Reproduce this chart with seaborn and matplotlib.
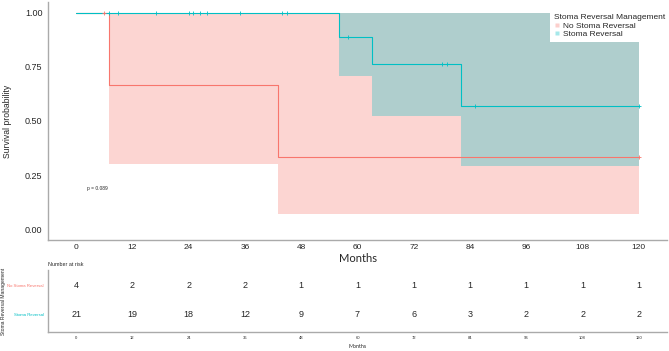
import numpy as np
import pandas as pd
import matplotlib
matplotlib.use("Agg")
import matplotlib.pyplot as plt
import seaborn as sns
from matplotlib.lines import Line2D

sns.set_style("white")
plt.rcParams['font.family'] = ['Liberation Sans', 'DejaVu Sans']

groups = ["No Stoma Reversal", "Stoma Reversal"]
colors = ["#F8766D", "#00BFC4"]

# Kaplan-Meier steps (time, survival, lower CI, upper CI)
no_t = [0, 7, 43, 120]
no_s = [1.0, 0.667, 0.333, 0.333]
no_lo = [1.0, 0.30, 0.07, 0.07]
no_hi = [1.0, 1.0, 1.0, 1.0]
no_cens_t = [6, 120]

sr_t = [0, 56, 63, 82, 120]
sr_s = [1.0, 0.889, 0.762, 0.571, 0.571]
sr_lo = [1.0, 0.708, 0.523, 0.293, 0.293]
sr_hi = [1.0, 1.0, 1.0, 1.0, 1.0]
sr_cens_t = [7, 9, 17, 24, 25, 26.5, 28, 35, 44, 45, 58, 78, 79, 85, 120]

risk_times = [0, 12, 24, 36, 48, 60, 72, 84, 96, 108, 120]
risk_no = [4, 2, 2, 2, 1, 1, 1, 1, 1, 1, 1]
risk_sr = [21, 19, 18, 12, 9, 7, 6, 3, 2, 2, 2]

p_text = "p = 0.089"

def surv_at(ts, ss, t):
    idx = np.searchsorted(ts, t, side='right') - 1
    return ss[max(idx, 0)]

fig = plt.figure(figsize=(6.69, 3.51), dpi=100)
ax = fig.add_axes([48/669, (351-240)/351, (667-48)/669, 238/351])
axr = fig.add_axes([48/669, (351-332)/351, (667-48)/669, 62/351])

curves = [(no_t, no_s, no_lo, no_hi, no_cens_t), (sr_t, sr_s, sr_lo, sr_hi, sr_cens_t)]
for (t, s, lo, hi, ct), g, c in zip(curves, groups, colors):
    ax.fill_between(t, lo, hi, step='post', color=c, alpha=0.3, linewidth=0)
    df = pd.DataFrame({"Months": t, "surv": s})
    sns.lineplot(data=df, x="Months", y="surv", drawstyle='steps-post', color=c,
                 linewidth=0.8, ax=ax, legend=False)
    cdf = pd.DataFrame({"Months": ct, "surv": [surv_at(t, s, x) for x in ct]})
    sns.scatterplot(data=cdf, x="Months", y="surv", marker='+', color=c, s=8,
                    linewidth=0.6, ax=ax, legend=False, zorder=5)

ax.set_xlim(-6, 126)
ax.set_ylim(-0.05, 1.05)
ax.set_xticks(risk_times)
ax.set_yticks([0, 0.25, 0.5, 0.75, 1.0])
ax.set_yticklabels(["0.00", "0.25", "0.50", "0.75", "1.00"])
ax.tick_params(axis='x', labelsize=6, length=2, color='#bbbbbb', pad=1)
ax.tick_params(axis='y', labelsize=6.5, length=2, color='#bbbbbb', pad=2)
ax.set_xlabel("Months", fontsize=8, family=['Lato', 'DejaVu Sans'], labelpad=1)
ax.set_ylabel("Survival probability", fontsize=6.2, labelpad=9)
for sp in ["top", "right"]:
    ax.spines[sp].set_visible(False)
for sp in ["left", "bottom"]:
    ax.spines[sp].set_color('#aaaaaa')
    ax.spines[sp].set_linewidth(1)
ax.text(2.3, 0.19, p_text, fontsize=3.5, ha='left', va='center')

handles = [Line2D([0], [0], marker='s', color='none', markerfacecolor=c, markeredgecolor='none',
                  alpha=0.35, markersize=3.5, label=g) for g, c in zip(groups, colors)]
leg = ax.legend(handles=handles, title="Stoma Reversal Management", loc='lower right',
                bbox_to_anchor=(1.003, 0.834), fontsize=6, title_fontsize=6, frameon=True,
                handlelength=0.7, handletextpad=0.4, labelspacing=0.05, borderpad=0.45,
                alignment='left', borderaxespad=0.0)
leg.get_frame().set_facecolor('white')
leg.get_frame().set_edgecolor('none')
leg.get_frame().set_alpha(1)
leg.get_frame().set_boxstyle('square', pad=0)

# risk table
rows = pd.DataFrame({"Months": risk_times * 2,
                     "row": [1] * len(risk_times) + [0] * len(risk_times),
                     "n": risk_no + risk_sr})
for _, r in rows.iterrows():
    axr.text(r["Months"], r["row"], str(int(r["n"])), ha='center', va='center', fontsize=6.5)
axr.set_xlim(-6, 126)
axr.set_ylim(-0.6, 1.55)
axr.set_xticks(risk_times)
axr.set_xticklabels([str(t) for t in risk_times], fontsize=3)
axr.set_yticks([1, 0])
axr.set_yticklabels(groups, fontsize=3.1)
for lbl, c in zip(axr.get_yticklabels(), colors):
    lbl.set_color(c)
axr.tick_params(axis='both', length=1.5, color='#bbbbbb', pad=1.5)
axr.set_xlabel("Months", fontsize=3.8, family=['Lato', 'DejaVu Sans'], labelpad=3)
axr.set_ylabel("Stoma Reversal Management", fontsize=3.6)
axr.yaxis.set_label_coords(-42/619, 0.5)
axr.set_title("Number at risk", fontsize=3.9, loc='left', pad=3)
for sp in ["top", "right"]:
    axr.spines[sp].set_visible(False)
for sp in ["left", "bottom"]:
    axr.spines[sp].set_color('#aaaaaa')
    axr.spines[sp].set_linewidth(1)

fig.savefig("out.png", dpi=100)
